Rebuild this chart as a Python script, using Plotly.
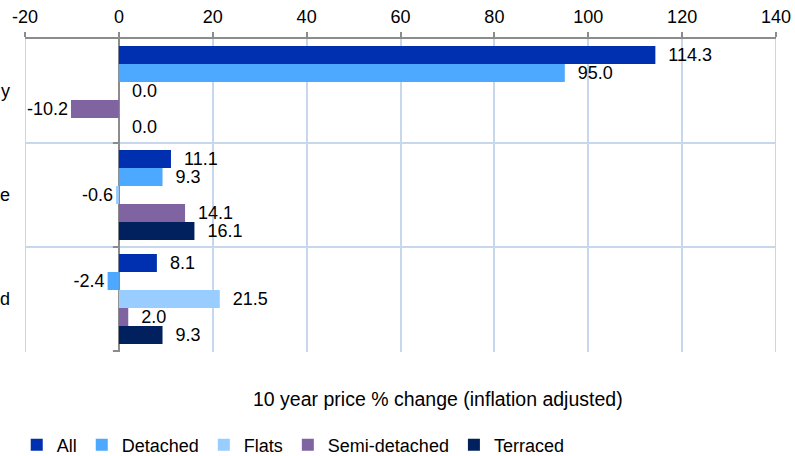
import plotly.graph_objects as go

categories = ["y", "e", "d"]
series_names = ["All", "Detached", "Flats", "Semi-detached", "Terraced"]
all_vals = [114.3, 11.1, 8.1]
detached_vals = [95.0, 9.3, -2.4]
flats_vals = [0.0, -0.6, 21.5]
semi_vals = [-10.2, 14.1, 2.0]
terraced_vals = [0.0, 16.1, 9.3]
x_ticks = [-20, 0, 20, 40, 60, 80, 100, 120, 140]
x_tick_labels = ["-20", "0", "20", "40", "60", "80", "100", "120", "140"]
axis_title = "10 year price % change (inflation adjusted)"

series_values = [all_vals, detached_vals, flats_vals, semi_vals, terraced_vals]
colors = ["#0030B0", "#4DA8FF", "#99CCFF", "#8064A2", "#00215E"]

FONT = "Liberation Sans, Arial, sans-serif"
GRID = "#C6D7EE"
AXIS = "#8C8C8C"
FS = 18

fig = go.Figure()
for name, vals, col in zip(series_names, series_values, colors):
    labels = [("  " + f"{v:.1f}") if v >= 0 else f"{v:.1f}" for v in vals]
    fig.add_trace(go.Bar(
        y=categories, x=vals, name=name, orientation="h",
        marker=dict(color=col, line=dict(width=0)),
        text=labels, textposition="outside", cliponaxis=False,
        constraintext="none",
        textfont=dict(size=FS, color="black", family=FONT),
    ))

shapes = []
for b in range(len(categories)):
    shapes.append(dict(type="line", xref="x", yref="y", xsizemode="pixel", xanchor=0,
                       x0=-6, x1=0, y0=b + 0.5, y1=b + 0.5,
                       line=dict(color=AXIS, width=2)))
for xv in (x_ticks[0], x_ticks[-1]):
    shapes.append(dict(type="line", xref="x", yref="paper", x0=xv, x1=xv, y0=0, y1=1,
                       line=dict(color=GRID, width=2), layer="below"))

fig.update_layout(
    width=795, height=456,
    margin=dict(l=25, r=19, t=39, b=104, autoexpand=False),
    paper_bgcolor="white", plot_bgcolor="white",
    barmode="group", bargap=0.135, bargroupgap=0,
    font=dict(family=FONT, size=FS, color="black"),
    showlegend=True,
    legend=dict(orientation="h", x=-0.011, xanchor="left", y=-0.297, yanchor="middle",
                font=dict(size=FS, color="black"), traceorder="normal",
                itemwidth=30, bgcolor="rgba(0,0,0,0)"),
    xaxis=dict(side="top", range=[-20, 140], tickvals=x_ticks, ticktext=x_tick_labels,
               automargin=False,
               showgrid=True, gridcolor=GRID, gridwidth=2,
               zeroline=True, zerolinecolor=AXIS, zerolinewidth=2,
               showline=True, linecolor=AXIS, linewidth=2,
               ticks="outside", ticklen=5, tickcolor=AXIS, tickwidth=2,
               ticklabelstandoff=2,
               tickfont=dict(size=FS, color="black")),
    yaxis=dict(autorange="reversed", type="category", tickson="boundaries",
               automargin=False,
               showgrid=True, gridcolor=GRID, gridwidth=2,
               ticks="", showline=False, zeroline=False,
               ticklabelstandoff=14, tickfont=dict(size=FS, color="black")),
    shapes=shapes,
    annotations=[dict(text=axis_title, xref="paper", yref="paper", x=0.55, y=-0.15,
                      xanchor="center", yanchor="middle", showarrow=False,
                      font=dict(size=19.5, color="black"))],
)

fig.write_html("out.html", config={"displayModeBar": False},
               post_script="document.body.style.margin='0px';")
